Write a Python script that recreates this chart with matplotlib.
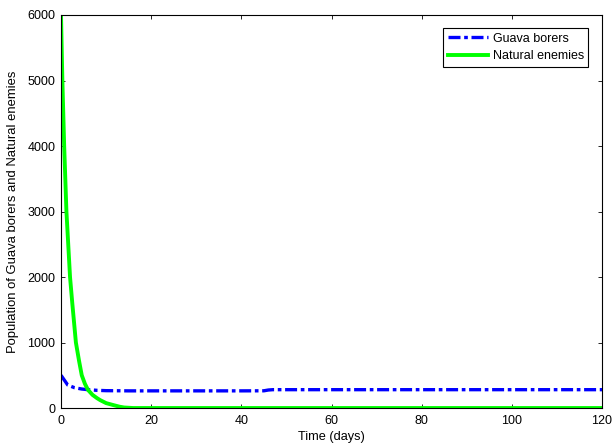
import numpy as np
import matplotlib.pyplot as plt

plt.rcParams['font.family'] = ['Liberation Sans', 'DejaVu Sans']
plt.rcParams['font.size'] = 9

t_borers = [0, 1, 1.5, 3, 4.6, 6, 8, 10, 15, 20, 30, 40, 45, 46, 47, 50, 60, 80, 100, 120]
borers = [500, 400, 350, 310, 290, 280, 270, 265, 262, 262, 262, 262, 263, 275, 280,
          280, 280, 280, 280, 280]

t_enemies = [0, 0.3, 0.7, 1.2, 2, 2.5, 3.3, 4, 4.6, 5.3, 6, 7, 8, 8.7, 10, 11.6, 13, 14,
             16, 20, 40, 60, 80, 100, 120]
enemies = [6000, 5000, 4000, 3000, 2000, 1600, 1000, 720, 500, 370, 275, 200, 150, 120,
           75, 45, 20, 8, 0, 0, 0, 0, 0, 0, 0]

fig = plt.figure(figsize=(6.12, 4.45), dpi=100)
ax = fig.add_axes([0.0997, 0.0831, 0.8840, 0.8832])

ax.plot(t_borers, borers, color=(0, 0, 1), linestyle=(0, (3.6, 1.1, 1.1, 1.1)),
        linewidth=2.4, label='Guava borers')
ax.plot(t_enemies, enemies, color=(0, 1, 0), linewidth=2.8, label='Natural enemies',
        solid_joinstyle='round')

ax.set_xlim(0, 120)
ax.set_ylim(0, 6000)
ax.set_xticks(np.arange(0, 121, 20))
ax.set_yticks(np.arange(0, 6001, 1000))
ax.tick_params(direction='in', top=True, right=True, length=3, width=0.6, labelsize=9)
ax.tick_params(axis='x', pad=5)
ax.tick_params(axis='y', pad=4)
for s in ax.spines.values():
    s.set_linewidth(0.8)

ax.set_xlabel('Time (days)', fontsize=9.2, labelpad=3)
ax.set_ylabel('Population of Guava borers and Natural enemies', fontsize=9.4, labelpad=6)

leg = ax.legend(loc='upper right', fancybox=False, edgecolor='black', framealpha=1,
                handlelength=3.2, borderpad=0.35, labelspacing=0.45, handletextpad=0.4,
                bbox_to_anchor=(0.986, 0.982), fontsize=9)
leg.get_frame().set_linewidth(0.8)

fig.savefig('out.png', dpi=100)
